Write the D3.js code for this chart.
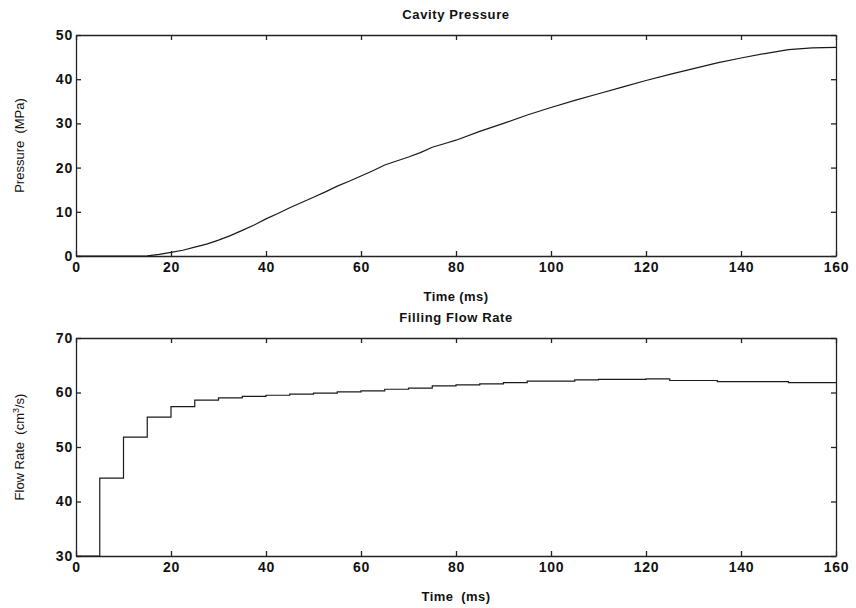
<!DOCTYPE html>
<html>
<head>
<meta charset="utf-8">
<script src="https://cdn.jsdelivr.net/npm/d3@7"></script>
<style>
  body { margin: 0; background: #fff; }
  svg text { font-family: "Liberation Sans", Arial, sans-serif; fill: #111; white-space: pre; }
  .tick text { font-size: 14px; font-weight: bold; letter-spacing: 0.8px; }
  .axis path, .axis line { stroke: #222; stroke-width: 1.3; }
</style>
</head>
<body>
<svg id="chart" width="856" height="608"></svg>
<script>
/* ======================= DATA ======================= */
const pressureTime = [0, 5, 10, 15, 17.5, 20, 22.5, 25, 27.5, 30, 32.5, 35, 37.5, 40, 42.5, 45, 47.5,
                      50, 52.5, 55, 57.5, 60, 62.5, 65, 67.5, 70, 72.5, 75, 77.5, 80, 85, 90, 95,
                      100, 105, 110, 115, 120, 125, 130, 135, 140, 145, 150, 155, 160];
const pressureValue = [0, 0, 0, 0.05, 0.35, 0.8, 1.3, 2.0, 2.7, 3.6, 4.6, 5.8, 7.0, 8.4, 9.6, 10.9, 12.1,
                       13.3, 14.5, 15.8, 16.9, 18.1, 19.3, 20.6, 21.5, 22.4, 23.4, 24.6, 25.4, 26.2, 28.2, 30.0, 31.9,
                       33.6, 35.2, 36.7, 38.2, 39.7, 41.1, 42.4, 43.7, 44.8, 45.8, 46.7, 47.1, 47.2];

const flowTime = [0, 5, 10, 15, 20, 25, 30, 35, 40, 45, 50, 55, 60, 65, 70, 75, 80,
                  85, 90, 95, 100, 105, 110, 115, 120, 125, 130, 135, 140, 145, 150, 155, 160];
const flowValue = [30, 44.3, 51.8, 55.5, 57.4, 58.6, 59.0, 59.3, 59.5, 59.7, 59.9, 60.1, 60.3, 60.6, 60.8, 61.2, 61.4,
                   61.6, 61.8, 62.1, 62.1, 62.3, 62.4, 62.4, 62.5, 62.2, 62.2, 62.0, 62.0, 62.0, 61.8, 61.8, 61.8];

const timeTicks = [0, 20, 40, 60, 80, 100, 120, 140, 160];
const pressureTicks = [0, 10, 20, 30, 40, 50];
const flowTicks = [30, 40, 50, 60, 70];

/* ===================== LAYOUT ======================= */
const svg = d3.select("#chart");
const left = 76, right = 836;

const panels = [
    { title: "Cavity Pressure", xLabel: "Time (ms)", yLabel: "Pressure  (MPa)",
      top: 35, bottom: 256, domain: [0, 50], ticks: pressureTicks,
      times: pressureTime, values: pressureValue, curve: d3.curveLinear },
    { title: "Filling Flow Rate", xLabel: "Time  (ms)", yLabel: null,
      top: 338, bottom: 556, domain: [30, 70], ticks: flowTicks,
      times: flowTime, values: flowValue, curve: d3.curveStepAfter }
];

const x = d3.scaleLinear().domain([0, 160]).range([left, right]);

panels.forEach((p, i) => {
    const y = d3.scaleLinear().domain(p.domain).range([p.bottom, p.top]);
    const g = svg.append("g");

    // box axes with inward ticks
    g.append("g").attr("class", "axis")
     .attr("transform", `translate(0,${p.bottom})`)
     .call(d3.axisBottom(x).tickValues(timeTicks).tickSizeInner(-5).tickSizeOuter(0).tickPadding(6));
    g.append("g").attr("class", "axis")
     .attr("transform", `translate(0,${p.top})`)
     .call(d3.axisTop(x).tickValues(timeTicks).tickSizeInner(-5).tickSizeOuter(0).tickFormat(""));
    g.append("g").attr("class", "axis")
     .attr("transform", `translate(${left},0)`)
     .call(d3.axisLeft(y).tickValues(p.ticks).tickSizeInner(-5).tickSizeOuter(0).tickPadding(3));
    g.append("g").attr("class", "axis")
     .attr("transform", `translate(${right},0)`)
     .call(d3.axisRight(y).tickValues(p.ticks).tickSizeInner(-5).tickSizeOuter(0).tickFormat(""));

    g.selectAll(".axis .tick line").attr("stroke", "#222");

    // data line
    const line = d3.line()
                   .x((d, j) => x(p.times[j]))
                   .y(d => y(d))
                   .curve(p.curve);
    g.append("path")
     .datum(p.values)
     .attr("fill", "none")
     .attr("stroke", "#1a1a1a")
     .attr("stroke-width", 1.2)
     .attr("d", line);

    // titles and labels
    const cx = (left + right) / 2;
    g.append("text")
     .attr("x", cx).attr("y", p.top - 16)
     .attr("text-anchor", "middle")
     .style("font-size", "13px").style("font-weight", "bold").style("letter-spacing", "0.6px")
     .text(p.title);
    g.append("text")
     .attr("x", cx).attr("y", p.bottom + 45)
     .attr("text-anchor", "middle")
     .style("font-size", "13px").style("font-weight", "bold").style("letter-spacing", "0.4px")
     .text(p.xLabel);

    const ylab = g.append("text")
     .attr("transform", `translate(24,${(p.top + p.bottom) / 2}) rotate(-90)`)
     .attr("text-anchor", "middle")
     .style("font-size", "13px");
    if (p.yLabel) {
        ylab.text(p.yLabel);
    } else {
        ylab.append("tspan").text("Flow Rate  (cm");
        ylab.append("tspan").attr("dy", -5).style("font-size", "9px").text("3");
        ylab.append("tspan").attr("dy", 5).text("/s)");
    }
});
</script>
</body>
</html>
